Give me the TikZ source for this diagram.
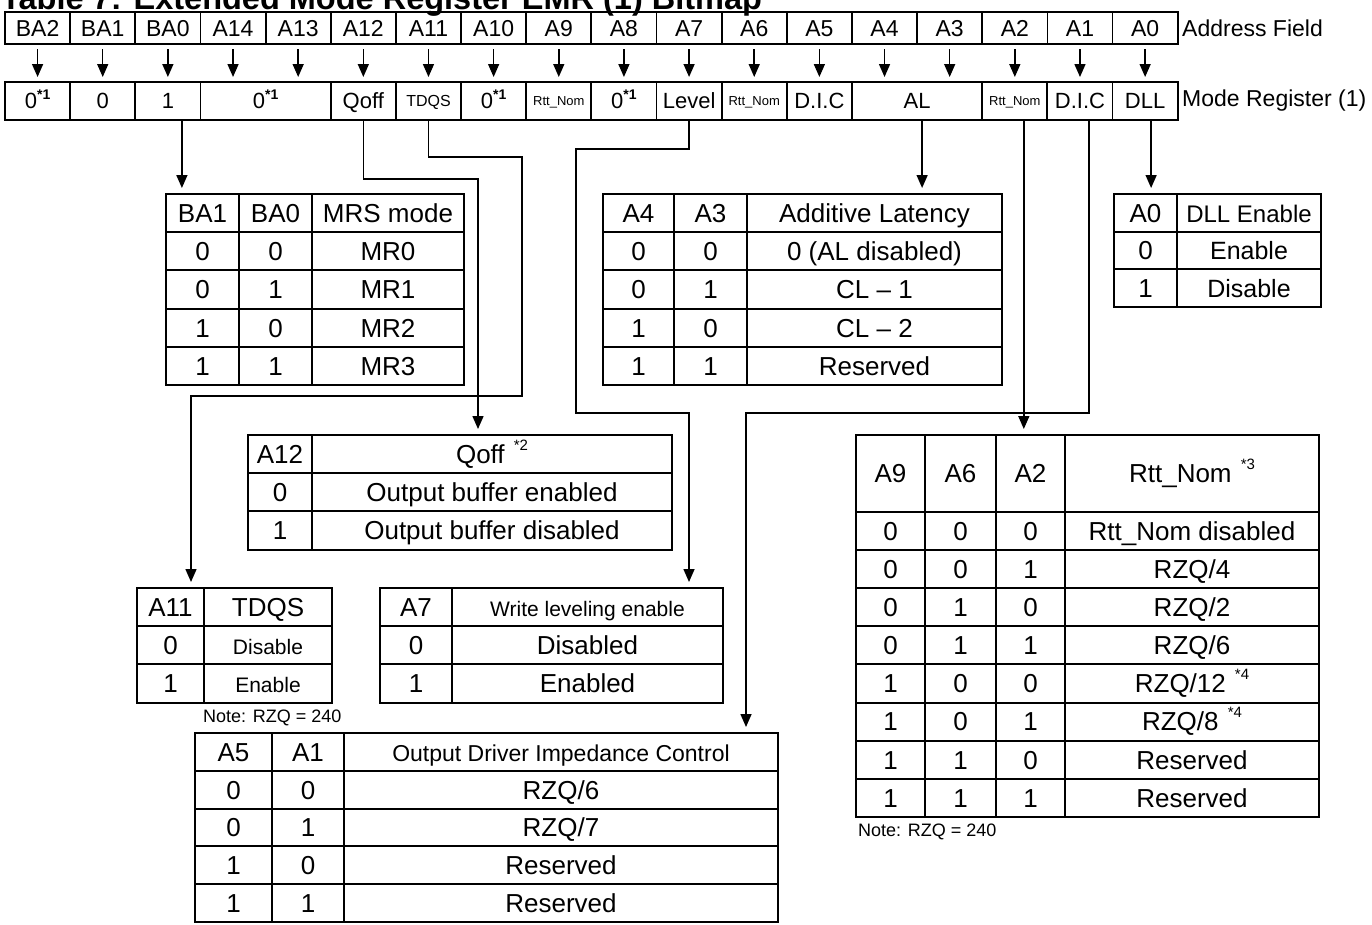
\documentclass[tikz,border=0pt]{standalone}
\usepackage{fontspec}
\setmainfont{Liberation Sans}
\usetikzlibrary{arrows.meta,matrix}
\newcommand{\fs}[1]{\fontsize{#1}{#1}\selectfont}
\newcommand{\zeroref}{0\raisebox{0.42em}{\fs{14}\bfseries *1}}
\newcommand{\supnote}[1]{\hspace{0.35em}\raisebox{0.5em}{\fs{15}#1}}

\begin{document}
\begin{tikzpicture}[x=1pt, y=-1pt,
    cell/.style={draw, line width=1.8pt, outer sep=0pt, inner sep=0pt,
                 minimum width=65.15pt, text depth=0pt},
    addr/.style={cell, minimum height=32pt, text height=16.5pt, font=\fs{23}},
    mreg/.style={cell, minimum height=38pt, text height=15.8pt, font=\fs{22}},
    tick/.style={-{Triangle[length=13pt,width=11pt]}, line width=1.5pt,
                 shorten <=5pt, shorten >=5pt},
    link/.style={-{Triangle[length=13pt,width=11pt]}, line width=1.5pt, shorten >=5pt},
    tbl/.style={matrix of nodes, anchor=north west, inner sep=0pt, outer sep=0pt,
                column sep=-2pt, row sep=-2pt,
                nodes={draw, line width=2pt, inner sep=0pt, anchor=center,
                       minimum height=38.2pt, text height=18.7pt, text depth=0pt, font=\fs{26}}},
    colw/.style 2 args={column #1/.style={nodes={minimum width=#2}}},
    lab/.style={anchor=west, inner sep=0pt, font=\fs{23}},
    note/.style={anchor=west, inner sep=0pt, font=\fs{18}}
]
\fill[white] (0,0) rectangle (1372,924);
\useasboundingbox (0,0) rectangle (1372,924);

\node[anchor=base west, inner sep=0pt, font=\fs{32.5}\bfseries] (title) at (1,9)
    {Table 7: Extended Mode Register EMR (1) Bitmap};

\foreach \lbl [count=\i from 0] in {BA2,BA1,BA0,A14,A13,A12,A11,A10,A9,A8,A7,A6,A5,A4,A3,A2,A1,A0}
    \node[addr] (ad\i) at ({5+65.15*(\i+0.5)},28) {\lbl};
\node[lab] (afield) at (1182,28) {Address Field};

\node[mreg] (mrBA2) at (37.6,101) {\zeroref};
\node[mreg] (mrBA1) at (102.7,101) {0};
\node[mreg] (mrBA0) at (167.9,101) {1};
\node[mreg, minimum width=130.3pt] (mrA14) at (265.6,101) {\zeroref};
\node[mreg] (mrQoff) at (363.3,101) {Qoff};
\node[mreg, font=\fs{16}, text height=11.5pt] (mrTDQS) at (428.5,101) {TDQS};
\node[mreg] (mrA10) at (493.6,101) {\zeroref};
\node[mreg, font=\fs{13}, text height=9.4pt] (mrA9) at (558.8,101) {Rtt\_Nom};
\node[mreg] (mrA8) at (623.9,101) {\zeroref};
\node[mreg] (mrLevel) at (689.1,101) {Level};
\node[mreg, font=\fs{13}, text height=9.4pt] (mrA6) at (754.2,101) {Rtt\_Nom};
\node[mreg] (mrA5) at (819.4,101) {D.I.C};
\node[mreg, minimum width=130.3pt] (mrAL) at (917.1,101) {AL};
\node[mreg, font=\fs{13}, text height=9.4pt] (mrA2) at (1014.8,101) {Rtt\_Nom};
\node[mreg] (mrA1) at (1080,101) {D.I.C};
\node[mreg] (mrDLL) at (1145.1,101) {DLL};
\node[lab] (mfield) at (1182,101) {Mode Register (1)};

\foreach \i in {0,...,17}
    \draw[tick] (ad\i.south) -- (ad\i.south |- mrBA2.north);

\matrix (tMRS) [tbl, colw={1}{73pt}, colw={2}{73pt}, colw={3}{152pt}] at (165,193) {
    BA1 & BA0 & MRS mode \\
    0 & 0 & MR0 \\
    0 & 1 & MR1 \\
    1 & 0 & MR2 \\
    1 & 1 & MR3 \\
};
\matrix (tAL) [tbl, colw={1}{71pt}, colw={2}{73pt}, colw={3}{255pt}] at (602,193) {
    A4 & A3 & Additive Latency \\
    0 & 0 & 0 (AL disabled) \\
    0 & 1 & CL -- 1 \\
    1 & 0 & CL -- 2 \\
    1 & 1 & Reserved \\
};
\matrix (tDLL) [tbl, colw={1}{63pt}, colw={2}{144pt}, nodes={minimum height=37.5pt}] at (1113,193) {
    A0 & |[font=\fs{24}]| DLL Enable \\
    0 & |[font=\fs{25}]| Enable \\
    1 & |[font=\fs{25}]| Disable \\
};
\matrix (tQoff) [tbl, colw={1}{64pt}, colw={2}{360pt}] at (247,434) {
    A12 & Qoff\supnote{*2} \\
    0 & Output buffer enabled \\
    1 & Output buffer disabled \\
};
\matrix (tTDQS) [tbl, colw={1}{67pt}, colw={2}{128pt}] at (136,587) {
    A11 & TDQS \\
    0 & |[font=\fs{21}]| Disable \\
    1 & |[font=\fs{21}]| Enable \\
};
\matrix (tLvl) [tbl, colw={1}{72pt}, colw={2}{271pt}] at (379,587) {
    A7 & |[font=\fs{21}]| Write leveling enable \\
    0 & Disabled \\
    1 & Enabled \\
};
\matrix (tODIC) [tbl, colw={1}{77pt}, colw={2}{72pt}, colw={3}{434pt}, nodes={minimum height=37.8pt}] at (194,732) {
    A5 & A1 & |[font=\fs{23}]| Output Driver Impedance Control \\
    0 & 0 & RZQ/6 \\
    0 & 1 & RZQ/7 \\
    1 & 0 & Reserved \\
    1 & 1 & Reserved \\
};
\matrix (tRtt) [tbl, colw={1}{69pt}, colw={2}{71pt}, colw={3}{69pt}, colw={4}{254pt},
                nodes={minimum height=38.1pt}, row 1/.style={nodes={minimum height=77pt}}] at (855,434) {
    A9 & A6 & A2 & Rtt\_Nom\supnote{*3} \\
    0 & 0 & 0 & Rtt\_Nom disabled \\
    0 & 0 & 1 & RZQ/4 \\
    0 & 1 & 0 & RZQ/2 \\
    0 & 1 & 1 & RZQ/6 \\
    1 & 0 & 0 & RZQ/12\supnote{*4} \\
    1 & 0 & 1 & RZQ/8\supnote{*4} \\
    1 & 1 & 0 & Reserved \\
    1 & 1 & 1 & Reserved \\
};

\node[note] (noteL) at (203,718) {Note: RZQ = 240};
\node[note] (noteR) at (858,832) {Note: RZQ = 240};

\draw[link] ([xshift=14pt]mrBA0.south) -- ([xshift=14pt]mrBA0.south |- tMRS.north);
\draw[link] (mrQoff.south) -- ++(0,59) -| ([xshift=231pt]tQoff.north west);
\draw[link] (mrTDQS.south) -- ++(0,37) -| ++(93.5,239) -| ([xshift=55pt]tTDQS.north west);
\draw[link] (mrLevel.south) -- ++(0,29) -| ++(-113,264) -| ([xshift=-35pt]tLvl.north east);
\draw[link] ([xshift=5pt]mrAL.south) -- ([xshift=5pt]mrAL.south |- tAL.north);
\draw[link] ([xshift=9pt]mrA2.south) -- ([xshift=9pt]mrA2.south |- tRtt.north);
\draw[link] ([xshift=9pt]mrA1.south) -- ++(0,293) -| ([xshift=-33pt]tODIC.north east);
\draw[link] ([xshift=6pt]mrDLL.south) -- ([xshift=6pt]mrDLL.south |- tDLL.north);
\end{tikzpicture}
\end{document}
